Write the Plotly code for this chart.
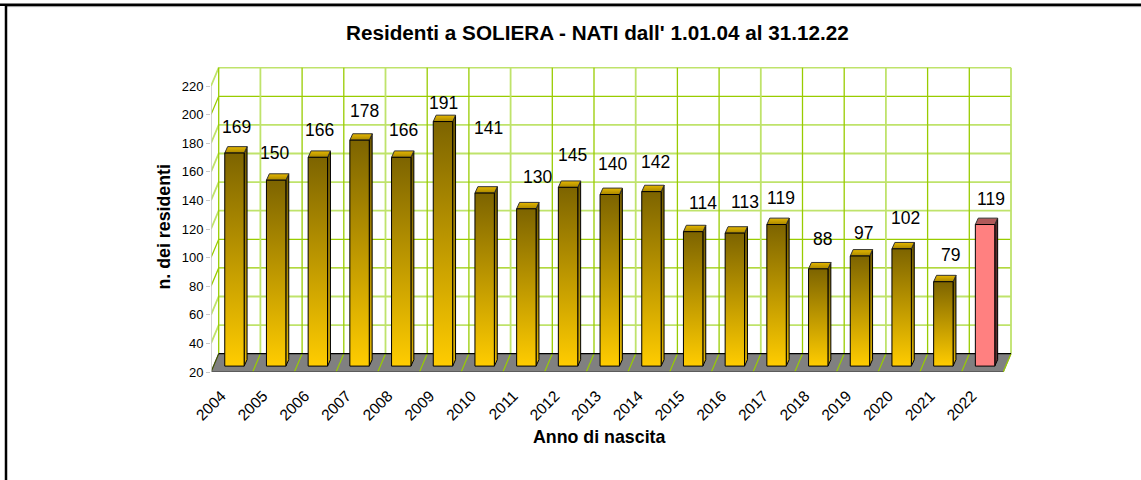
import plotly.graph_objects as go

# ---- data ----
years = [2004, 2005, 2006, 2007, 2008, 2009, 2010, 2011, 2012, 2013, 2014, 2015, 2016, 2017, 2018, 2019, 2020, 2021, 2022]
births = [169, 150, 166, 178, 166, 191, 141, 130, 145, 140, 142, 114, 113, 119, 88, 97, 102, 79, 119]
y_ticks = list(range(20, 221, 20))
highlight_year = 2022
label_dx = [2, -2, 2, 4.6, 2, 1, 3.5, 11, 4, 3, 3.7, 10, 10, 4.6, 4, 4, 3.5, 7, 6]
label_dy = [-26, -27, -27, -29, -27, -18.5, -65, -31.7, -32, -31, -29.5, -28.6, -31, -27, -30, -23, -30.7, -26.6, -26]
strong_rows = [200, 100, 80]

# ---- page geometry ----
W, H = 1141, 480
L, R, T, B = 211.0, 1013.0, 67.0, 372.0
PX_X = 41.7            # px per category
PX_Y = 1.43            # px per unit
xmin = -0.5
xmax = xmin + (R - L) / PX_X
ymin = 20
ymax = ymin + (B - T) / PX_Y

DX_WALL = 7.7 / PX_X   # depth of the box
DY_WALL = 18.3 / PX_Y
DX_BAR = 2.6 / PX_X    # front of the bars, inside the box
DY_BAR = 5.9 / PX_Y
HALF = 9.7 / PX_X      # half bar width
SX = 2.9 / PX_X        # bar depth
SY = 6.4 / PX_Y

GRID_S = "#99cc00"
GRID_L = "#bfe36b"

fig = go.Figure()


def line(xs, ys, color, width=1.0):
    fig.add_trace(go.Scatter(x=xs, y=ys, mode="lines", line=dict(color=color, width=width),
                             hoverinfo="skip", showlegend=False))


def poly(xs, ys, fill=None, grad=None, outline="#000000", width=1.0):
    kw = dict(fillcolor=fill) if fill else dict(fillgradient=dict(type="vertical", colorscale=grad))
    fig.add_trace(go.Scatter(x=xs + xs[:1], y=ys + ys[:1], mode="lines", fill="toself",
                             line=dict(color=outline, width=width), hoverinfo="skip",
                             showlegend=False, **kw))


n = len(years)
left = xmin
# back wall and left wall, horizontal rows
for t in y_ticks:
    col = GRID_S if t in strong_rows else GRID_L
    w = 1.3 if t in strong_rows else 1.8
    if t > ymin:
        line([left, left + DX_WALL, left + n + DX_WALL], [t, t + DY_WALL, t + DY_WALL], col, w)
# back wall verticals
for i in range(n + 1):
    col = GRID_L if i % 3 == 1 else GRID_S
    w = 1.8 if i % 3 == 1 else 1.3
    xb = left + i + DX_WALL
    line([xb, xb], [ymin + DY_WALL, 220 + DY_WALL], col, w)
# floor
poly([left, left + n, left + n + DX_WALL, left + DX_WALL],
     [ymin, ymin, ymin + DY_WALL, ymin + DY_WALL], fill="#808080", outline="#808080", width=1.0)
for i in range(n + 1):
    line([left + i, left + i + DX_WALL], [ymin, ymin + DY_WALL], "#99cc00" if i else "#3f5000", 1.2)
line([left + DX_WALL, left + n + DX_WALL], [ymin + DY_WALL, ymin + DY_WALL], "#000000", 1.2)
line([left, left + n], [ymin, ymin], "#505050", 1.6)
# front axis
line([left, left], [ymin, 220], "#c8c8c8", 1.6)

# bars
GOLD_FRONT = [[0, "#ffcc00"], [1, "#7d6400"]]
GOLD_SIDE = [[0, "#e6b800"], [1, "#6e5800"]]
GOLD_TOP = [[0, "#a88600"], [1, "#e6b800"]]
RED_FRONT = [[0, "#ff8080"], [1, "#ff8080"]]
RED_SIDE = [[0, "#5a2c2c"], [1, "#5a2c2c"]]
RED_TOP = [[0, "#b05a5a"], [1, "#b05a5a"]]

for i, (yr, v) in enumerate(zip(years, births)):
    c = i + DX_BAR
    x0, x1 = c - HALF, c + HALF
    y0, y1 = ymin + DY_BAR, v + DY_BAR
    hot = yr == highlight_year
    # side face
    poly([x1, x1 + SX, x1 + SX, x1], [y0, y0 + SY, y1 + SY, y1], grad=RED_SIDE if hot else GOLD_SIDE)
    # top face
    poly([x0, x1, x1 + SX, x0 + SX], [y1, y1, y1 + SY, y1 + SY], grad=RED_TOP if hot else GOLD_TOP, outline="#333333")
    # front face
    poly([x0, x1, x1, x0], [y0, y0, y1, y1], grad=RED_FRONT if hot else GOLD_FRONT)

FONT = "Liberation Sans"


def px(xp):
    return (xp - L) / (R - L)


def py(yp):
    return (B - yp) / (B - T)


annotations = []
for i, v in enumerate(births):
    annotations.append(dict(x=i + DX_BAR, y=v + DY_BAR, text=str(v), showarrow=False,
                            xanchor="center", yanchor="middle",
                            xshift=label_dx[i], yshift=-label_dy[i],
                            font=dict(family=FONT, size=17.5, color="#000000")))
annotations.append(dict(x=px(597), y=py(32), xref="paper", yref="paper",
                        text="<b>Residenti a SOLIERA - NATI dall' 1.01.04 al 31.12.22</b>", showarrow=False,
                        xanchor="center", yanchor="middle", font=dict(family=FONT, size=20.7, color="#000000")))
annotations.append(dict(x=px(599), y=py(437), xref="paper", yref="paper",
                        text="<b>Anno di nascita</b>", showarrow=False,
                        xanchor="center", yanchor="middle", font=dict(family=FONT, size=17.8, color="#000000")))
annotations.append(dict(x=px(163.5), y=py(227), xref="paper", yref="paper",
                        text="<b>n. dei residenti</b>", showarrow=False, textangle=-90,
                        xanchor="center", yanchor="middle", font=dict(family=FONT, size=17.8, color="#000000")))

shapes = [
    dict(type="line", xref="paper", yref="paper", x0=px(0), x1=px(W), y0=py(4.8), y1=py(4.8),
         line=dict(color="#000000", width=2.5), layer="above"),
    dict(type="line", xref="paper", yref="paper", x0=px(7), x1=px(W), y0=py(6.6), y1=py(6.6),
         line=dict(color="#999999", width=1), layer="above"),
    dict(type="line", xref="paper", yref="paper", x0=px(6), x1=px(6), y0=py(4), y1=py(H),
         line=dict(color="#000000", width=2.5), layer="above"),
]

fig.update_layout(
    width=W, height=H, autosize=False,
    margin=dict(l=L, r=W - R, t=T, b=H - B, pad=0),
    paper_bgcolor="#ffffff", plot_bgcolor="#ffffff",
    showlegend=False, annotations=annotations, shapes=shapes,
    font=dict(family=FONT, color="#000000"),
    xaxis=dict(range=[xmin, xmax], showgrid=False, zeroline=False, showline=False,
               tickmode="array", tickvals=[i - 0.25 for i in range(n)], ticktext=[str(y) for y in years],
               tickangle=-45, ticks="", tickfont=dict(family=FONT, size=15.5), ticklabelstandoff=11),
    yaxis=dict(range=[ymin, ymax], showgrid=False, zeroline=False, showline=False,
               tickmode="array", tickvals=y_ticks, ticktext=[str(t) for t in y_ticks],
               ticks="outside", ticklen=4, tickcolor="#c8c8c8", tickwidth=1.2,
               tickfont=dict(family=FONT, size=13)),
)
fig.write_html("out.html", config={"displayModeBar": False},
               post_script="document.body.style.margin='0';document.documentElement.style.overflow='hidden';")
